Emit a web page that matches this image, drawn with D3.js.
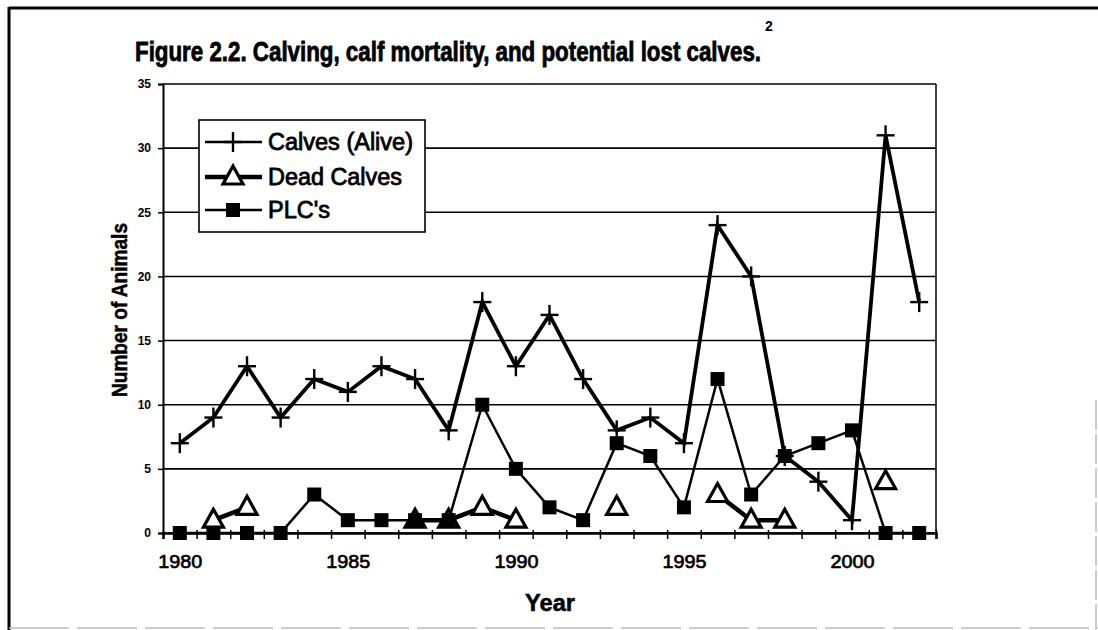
<!DOCTYPE html>
<html>
<head>
    <meta charset="utf-8">
    <title>Calving, calf mortality, and potential lost calves</title>
    <style>
        html, body {
            margin: 0;
            padding: 0;
            background-color: #fff;
        }
        svg text {
            font-family: 'Liberation Sans', Arial, sans-serif;
            fill: #000;
        }
    </style>
</head>
<body>
    <div id="chart"></div>

    <script src="https://cdnjs.cloudflare.com/ajax/libs/d3/7.8.5/d3.min.js"></script>
    <script>
        // data
        const years = [1980, 1981, 1982, 1983, 1984, 1985, 1986, 1987, 1988, 1989, 1990, 1991,
            1992, 1993, 1994, 1995, 1996, 1997, 1998, 1999, 2000, 2001, 2002];
        const calvesAlive = [7, 9, 13, 9, 12, 11, 13, 12, 8, 18, 13, 17, 12, 8, 9, 7, 24, 20, 6, 4, 1, 31, 18];
        const deadCalves = [null, 1, 2, null, null, null, null, 1, 1, 2, 1, null, null, 2, null, null, 3, 1, 1, null, null, 4, null];
        const plcs = [0, 0, 0, 0, 3, 1, 1, 1, 1, 10, 5, 2, 1, 7, 6, 2, 12, 3, 6, 7, 8, 0, 0];
        const yTicks = [0, 5, 10, 15, 20, 25, 30, 35];
        const xTickLabels = [1980, 1985, 1990, 1995, 2000];
        const seriesNames = ["Calves (Alive)", "Dead Calves", "PLC's"];

        const width = 1098, height = 630;
        const plot = { left: 163, right: 936, top: 84, bottom: 533 };

        const svg = d3.select("#chart")
            .append("svg")
            .attr("width", width)
            .attr("height", height);

        // page frame (scan edges)
        svg.append("line").attr("x1", 9).attr("x2", width).attr("y1", 8).attr("y2", 8)
            .attr("stroke", "#000").attr("stroke-width", 3);
        svg.append("line").attr("x1", 9).attr("x2", 9).attr("y1", 7).attr("y2", height)
            .attr("stroke", "#000").attr("stroke-width", 3);
        svg.append("line").attr("x1", 1096).attr("x2", 1096).attr("y1", 400).attr("y2", height)
            .attr("stroke", "#bbb").attr("stroke-width", 1.5).attr("stroke-dasharray", "30,4");
        svg.append("line").attr("x1", 9).attr("x2", width).attr("y1", 628).attr("y2", 628)
            .attr("stroke", "#bbb").attr("stroke-width", 1.5).attr("stroke-dasharray", "60,8");

        const x = d3.scaleLinear()
            .domain([years[0] - 0.5, years[years.length - 1] + 0.5])
            .range([plot.left, plot.right]);

        const y = d3.scaleLinear()
            .domain([0, 35])
            .range([plot.bottom, plot.top]);

        // gridlines
        svg.append("g")
            .selectAll("line")
            .data(yTicks)
            .enter()
            .append("line")
            .attr("x1", plot.left)
            .attr("x2", plot.right)
            .attr("y1", d => y(d))
            .attr("y2", d => y(d))
            .attr("stroke", "#000")
            .attr("stroke-width", 1.6);

        // right edge of the plot area
        svg.append("line")
            .attr("x1", plot.right).attr("x2", plot.right)
            .attr("y1", plot.top).attr("y2", plot.bottom)
            .attr("stroke", "#000").attr("stroke-width", 1.5);

        // y axis
        const yAxis = d3.axisLeft(y)
            .tickValues(yTicks)
            .tickSize(5)
            .tickPadding(7);

        const yAxisG = svg.append("g")
            .attr("transform", "translate(" + plot.left + ",0)")
            .call(yAxis);
        yAxisG.select(".domain").attr("stroke", "#000").attr("stroke-width", 2);
        yAxisG.selectAll(".tick line").attr("stroke", "#000").attr("stroke-width", 1.5);
        yAxisG.selectAll(".tick text")
            .style("font-family", "'Liberation Sans', Arial, sans-serif")
            .style("font-size", "12px")
            .style("font-weight", "bold");

        // x axis: marks between the categories, labels every fifth year
        const boundaries = years.map(d => d - 0.5).concat([years[years.length - 1] + 0.5]);
        const xAxisMarks = svg.append("g")
            .attr("transform", "translate(0," + plot.bottom + ")")
            .call(d3.axisBottom(x).tickValues(boundaries).tickSize(6).tickFormat(""));
        xAxisMarks.select(".domain").attr("stroke", "#000").attr("stroke-width", 2.5);
        xAxisMarks.selectAll(".tick line").attr("stroke", "#000").attr("stroke-width", 1.5)
            .attr("y1", -3);

        const xAxisLabels = svg.append("g")
            .attr("transform", "translate(0," + plot.bottom + ")")
            .call(d3.axisBottom(x).tickValues(xTickLabels).tickSize(0).tickPadding(22).tickFormat(d3.format("d")));
        xAxisLabels.select(".domain").remove();
        xAxisLabels.selectAll(".tick text")
            .style("font-family", "'Liberation Sans', Arial, sans-serif")
            .style("font-size", "19px")
            .attr("stroke", "#000")
            .attr("stroke-width", 0.7)
            .attr("textLength", 44)
            .attr("lengthAdjust", "spacingAndGlyphs");

        // series
        const calvesData = years.map((d, i) => ({ year: d, v: calvesAlive[i] }));
        const deadData = years.map((d, i) => ({ year: d, v: deadCalves[i] }));
        const plcData = years.map((d, i) => ({ year: d, v: plcs[i] }));

        const line = d3.line()
            .defined(d => d.v !== null)
            .x(d => x(d.year))
            .y(d => y(d.v));

        svg.append("path").datum(calvesData).attr("d", line)
            .attr("fill", "none").attr("stroke", "#000").attr("stroke-width", 3.8)
            .attr("stroke-linejoin", "miter");
        svg.append("path").datum(deadData).attr("d", line)
            .attr("fill", "none").attr("stroke", "#000").attr("stroke-width", 4.5);
        svg.append("path").datum(plcData).attr("d", line)
            .attr("fill", "none").attr("stroke", "#000").attr("stroke-width", 2.5);

        function drawPlus(g, cx, cy) {
            g.append("line").attr("x1", cx - 9).attr("x2", cx + 9).attr("y1", cy).attr("y2", cy)
                .attr("stroke", "#000").attr("stroke-width", 2.4);
            g.append("line").attr("x1", cx).attr("x2", cx).attr("y1", cy - 10).attr("y2", cy + 10)
                .attr("stroke", "#000").attr("stroke-width", 2.4);
        }
        function drawTriangle(g, cx, cy) {
            g.append("path")
                .attr("d", "M" + cx + "," + (cy - 11) + " L" + (cx + 10) + "," + (cy + 7) + " L" + (cx - 10) + "," + (cy + 7) + " Z")
                .attr("fill", "#fff").attr("stroke", "#000").attr("stroke-width", 3.2)
                .attr("stroke-linejoin", "miter");
        }
        function drawSquare(g, cx, cy) {
            g.append("rect").attr("x", cx - 7).attr("y", cy - 7)
                .attr("width", 14).attr("height", 14).attr("fill", "#000");
        }

        const plusG = svg.append("g");
        calvesData.forEach(d => drawPlus(plusG, x(d.year), y(d.v)));
        const triG = svg.append("g");
        deadData.filter(d => d.v !== null).forEach(d => drawTriangle(triG, x(d.year), y(d.v)));
        const sqG = svg.append("g");
        plcData.forEach(d => drawSquare(sqG, x(d.year), y(d.v)));

        // legend
        const legend = svg.append("g").attr("transform", "translate(199,120)");
        legend.append("rect")
            .attr("width", 226).attr("height", 112)
            .attr("fill", "#fff").attr("stroke", "#000").attr("stroke-width", 1.6);
        const legendRows = [22, 57, 90];
        const legendWidths = [145, 134, 62];
        const legendStroke = [2.4, 4.5, 2.5];
        seriesNames.forEach((name, i) => {
            const ly = legendRows[i];
            legend.append("line").attr("x1", 6).attr("x2", 63).attr("y1", ly).attr("y2", ly)
                .attr("stroke", "#000").attr("stroke-width", legendStroke[i]);
            if (i === 0) drawPlus(legend, 34, ly);
            if (i === 1) drawTriangle(legend, 34, ly);
            if (i === 2) drawSquare(legend, 34, ly);
            legend.append("text")
                .attr("x", 69).attr("y", ly + 8)
                .attr("font-size", 23)
                .attr("stroke", "#000")
                .attr("stroke-width", 0.8)
                .attr("textLength", legendWidths[i])
                .attr("lengthAdjust", "spacingAndGlyphs")
                .text(name);
        });

        // title, with the footnote mark raised above it
        svg.append("text")
            .attr("x", 135).attr("y", 61)
            .attr("font-size", 27)
            .attr("font-weight", "bold")
            .attr("stroke", "#000")
            .attr("stroke-width", 0.8)
            .attr("textLength", 626)
            .attr("lengthAdjust", "spacingAndGlyphs")
            .text("Figure 2.2. Calving, calf mortality, and potential lost calves.");
        svg.append("text")
            .attr("x", 765).attr("y", 31)
            .attr("font-size", 14)
            .attr("font-weight", "bold")
            .text("2");

        // axis titles
        svg.append("text")
            .attr("x", 550).attr("y", 611)
            .attr("text-anchor", "middle")
            .attr("font-size", 23)
            .attr("font-weight", "bold")
            .attr("stroke", "#000")
            .attr("stroke-width", 0.5)
            .attr("textLength", 50)
            .attr("lengthAdjust", "spacingAndGlyphs")
            .text("Year");

        svg.append("text")
            .attr("transform", "translate(127,310) rotate(-90)")
            .attr("text-anchor", "middle")
            .attr("font-size", 22)
            .attr("font-weight", "bold")
            .attr("stroke", "#000")
            .attr("stroke-width", 0.5)
            .attr("textLength", 174)
            .attr("lengthAdjust", "spacingAndGlyphs")
            .text("Number of Animals");
    </script>
</body>
</html>
